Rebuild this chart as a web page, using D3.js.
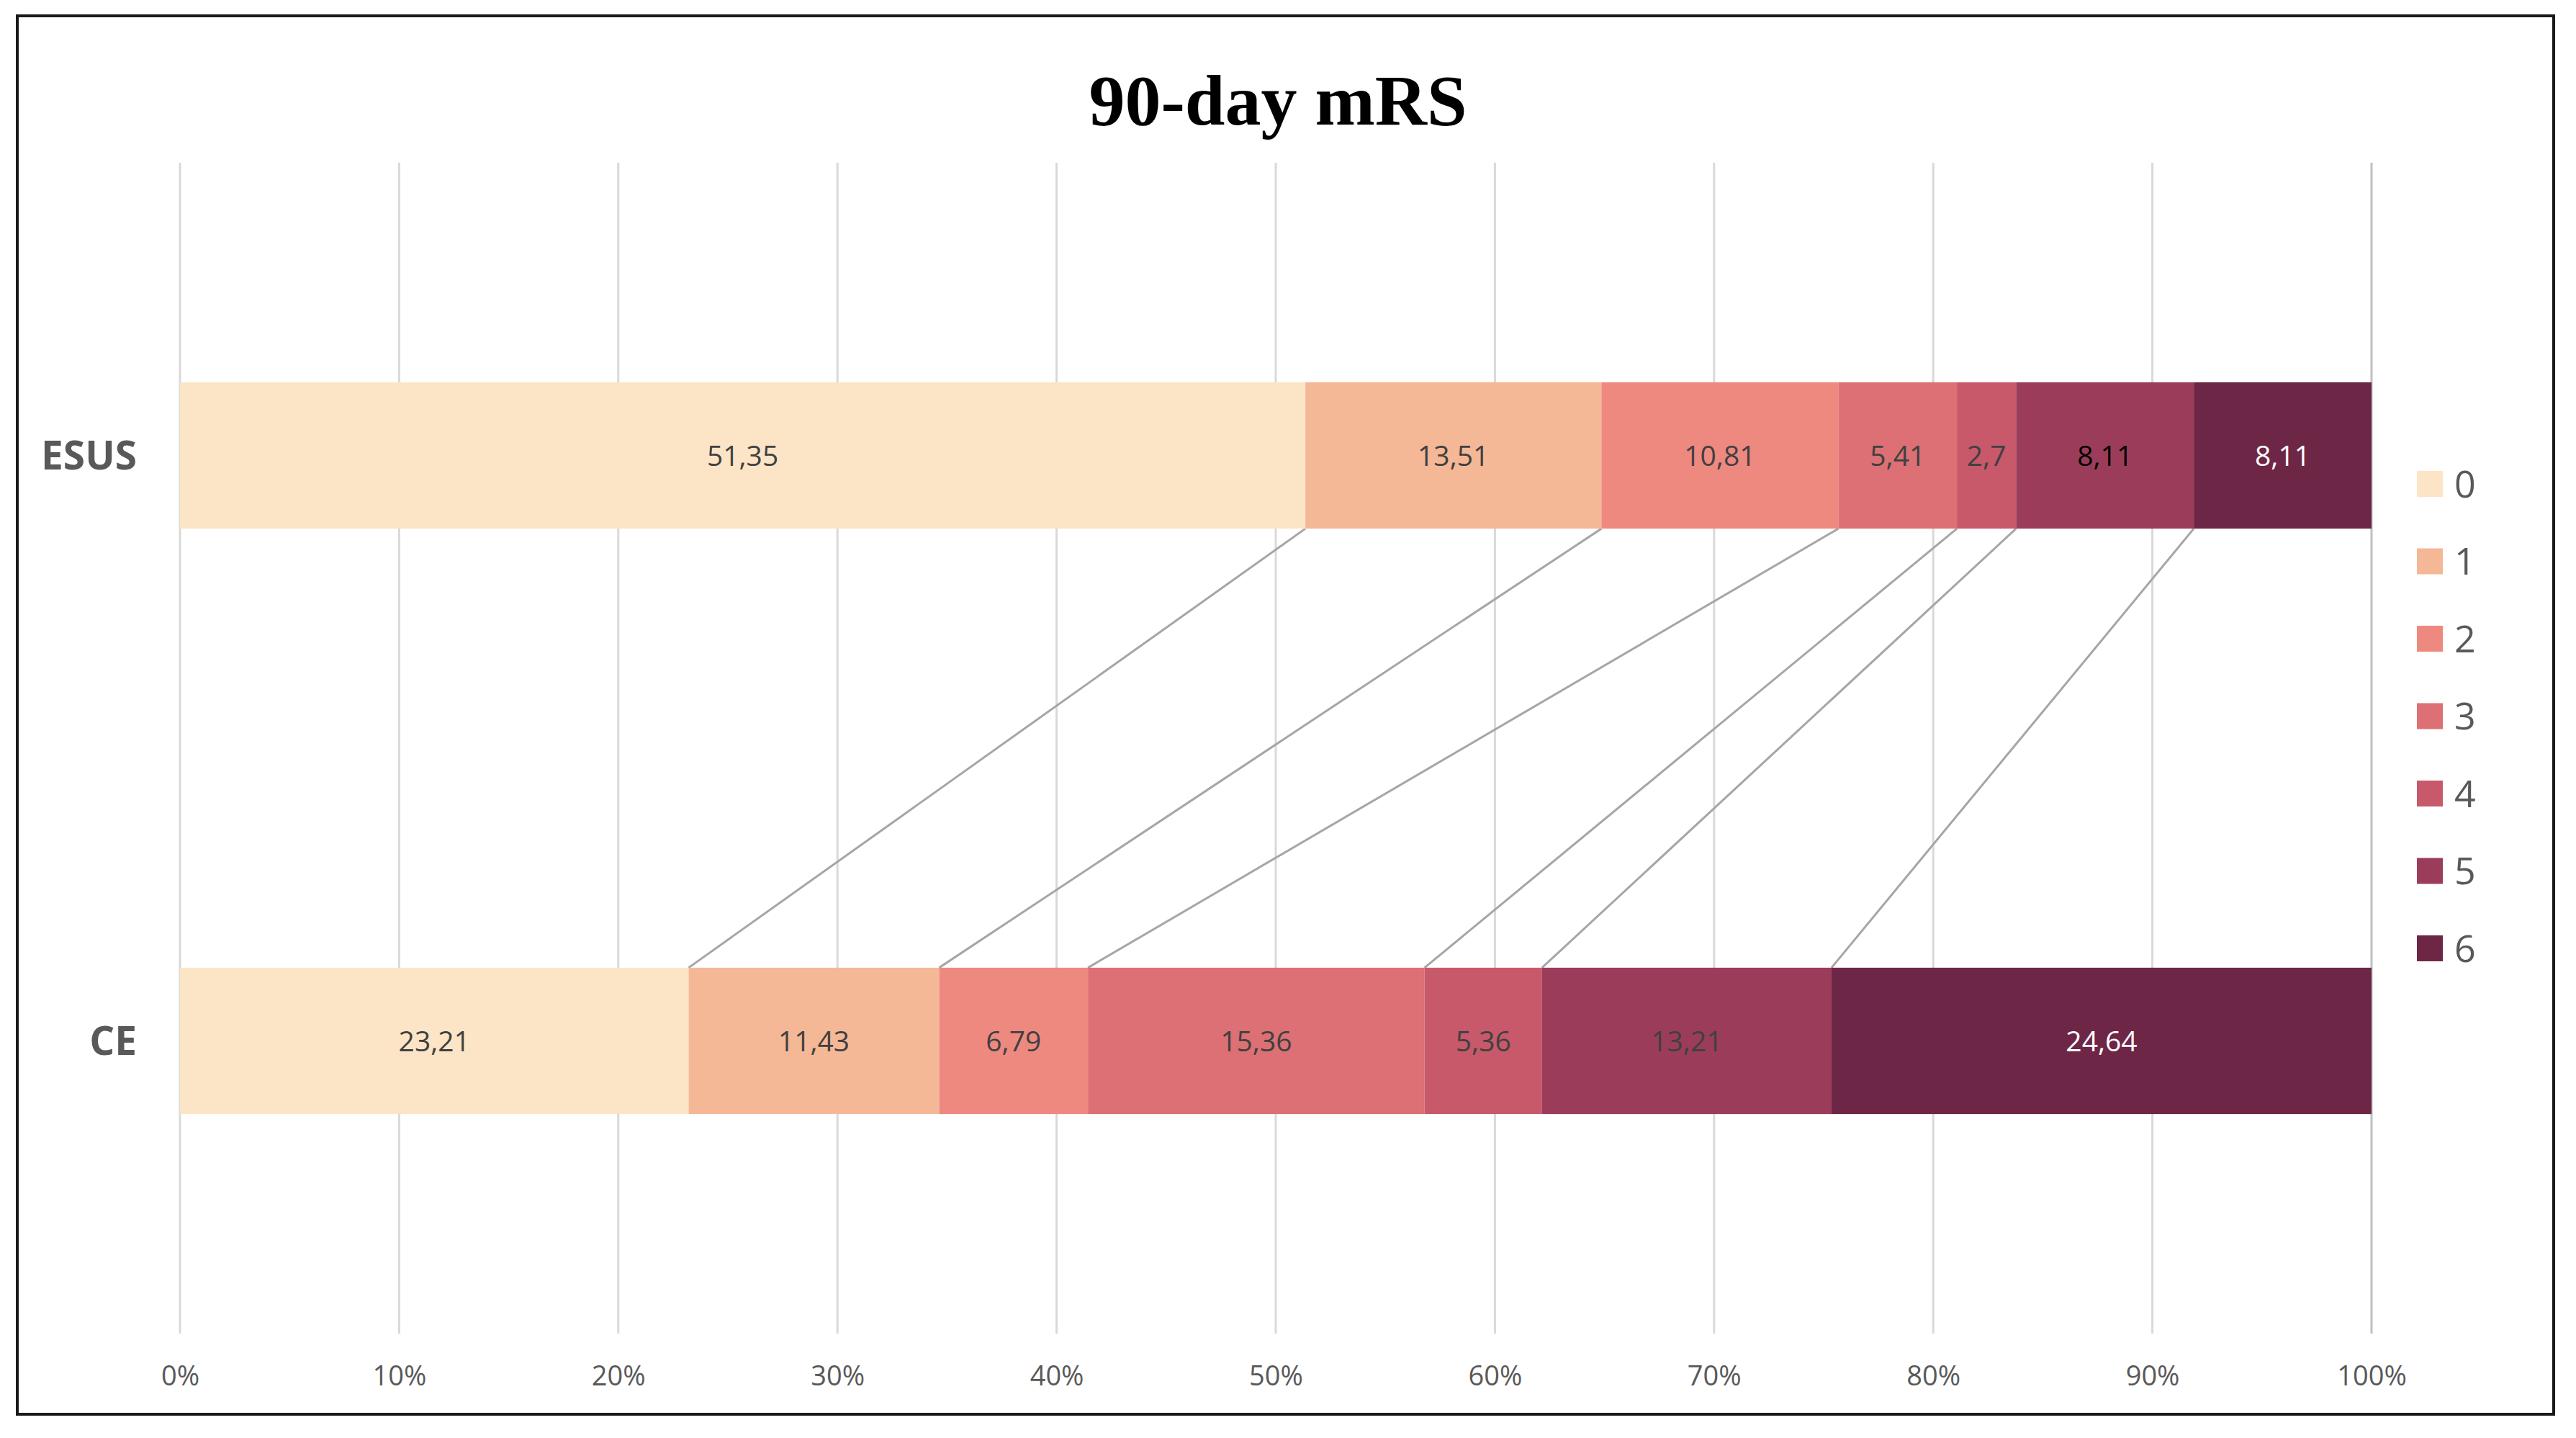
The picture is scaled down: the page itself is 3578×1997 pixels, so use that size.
<!DOCTYPE html>
<html>
<head>
<meta charset="utf-8">
<script src="https://cdn.jsdelivr.net/npm/d3@7"></script>
<style>
  body { margin: 0; background: #fff; }
  svg { display: block; }
</style>
</head>
<body>
<div id="chart"></div>
<script>
// data
const categories = ['ESUS', 'CE'];
const series = ['0', '1', '2', '3', '4', '5', '6'];
const esusValues = [51.35, 13.51, 10.81, 5.41, 2.7, 8.11, 8.11];
const ceValues = [23.21, 11.43, 6.79, 15.36, 5.36, 13.21, 24.64];
const tickValues = [0, 10, 20, 30, 40, 50, 60, 70, 80, 90, 100];

const colors = ['#FCE5C6', '#F4B897', '#EE8980', '#DC7075', '#C7596B', '#9B3D5A', '#6E2646'];

const width = 3578;
const height = 1997;
const margin = { top: 226, right: 284, bottom: 145, left: 250 };

const svg = d3.select('#chart')
  .append('svg')
  .attr('width', width)
  .attr('height', height);

// outer frame
svg.append('rect')
  .attr('x', 24)
  .attr('y', 22)
  .attr('width', 3523)
  .attr('height', 1942)
  .style('fill', '#fff')
  .style('stroke', '#1a1a1a')
  .style('stroke-width', 4);

// title
svg.append('text')
  .attr('x', 1775)
  .attr('y', 173)
  .attr('text-anchor', 'middle')
  .style('font-family', '"Liberation Serif", "Times New Roman", serif')
  .style('font-weight', 'bold')
  .style('font-size', '100px')
  .style('fill', '#000')
  .text('90-day mRS');

const x = d3.scaleLinear()
  .domain([0, 100])
  .range([margin.left, width - margin.right]);

const y = d3.scaleBand()
  .domain(categories)
  .range([margin.top, height - margin.bottom])
  .paddingInner(0.75)
  .paddingOuter(0.375);

// gridlines
svg.append('g')
  .selectAll('line')
  .data(tickValues)
  .join('line')
  .attr('x1', d => x(d))
  .attr('x2', d => x(d))
  .attr('y1', margin.top)
  .attr('y2', height - margin.bottom)
  .style('stroke', d => d === 100 ? '#BFBFBF' : '#D9D9D9')
  .style('stroke-width', 3);

// x axis labels
const xAxis = d3.axisBottom(x)
  .tickValues(tickValues)
  .tickFormat(d => d + '%')
  .tickSize(0)
  .tickPadding(0);

const xg = svg.append('g')
  .attr('transform', `translate(0, ${height - margin.bottom + 44})`)
  .call(xAxis);
xg.select('.domain').remove();
xg.selectAll('text')
  .attr('dy', '0.35em')
  .attr('y', 15)
  .style('font-family', '"Open Sans", sans-serif')
  .style('font-size', '38px')
  .style('fill', '#595959');

// stack the rows
const rows = [esusValues, ceValues].map((vals, i) => {
  let acc = 0;
  return vals.map((v, j) => {
    const seg = { cat: categories[i], key: series[j], value: v, x0: acc, x1: acc + v, idx: j };
    acc += v;
    return seg;
  });
});

// connector lines between the two bars
const connectors = d3.range(series.length - 1).map(j => ({
  top: rows[0][j].x1,
  bottom: rows[1][j].x1
}));

svg.append('g')
  .selectAll('line')
  .data(connectors)
  .join('line')
  .attr('x1', d => x(d.top))
  .attr('y1', y('ESUS') + y.bandwidth())
  .attr('x2', d => x(d.bottom))
  .attr('y2', y('CE'))
  .style('stroke', '#A6A6A6')
  .style('stroke-width', 3);

// bars
const barGroup = svg.append('g');
rows.forEach(row => {
  barGroup.selectAll(null)
    .data(row)
    .enter()
    .append('rect')
    .attr('x', d => x(d.x0))
    .attr('y', d => y(d.cat))
    .attr('width', d => x(d.x1) - x(d.x0))
    .attr('height', y.bandwidth())
    .style('fill', d => colors[d.idx]);

  barGroup.selectAll(null)
    .data(row)
    .enter()
    .append('text')
    .attr('x', d => (x(d.x0) + x(d.x1)) / 2)
    .attr('y', d => y(d.cat) + y.bandwidth() / 2)
    .attr('dy', '0.36em')
    .attr('text-anchor', 'middle')
    .style('font-family', '"Open Sans", sans-serif')
    .style('font-size', '39px')
    .style('fill', d => {
      if (d.idx === 6) return '#ffffff';
      if (d.idx === 5 && d.cat === 'ESUS') return '#000000';
      return '#404040';
    })
    .text(d => String(d.value).replace('.', ','));
});

// category labels
svg.append('g')
  .selectAll('text')
  .data(categories)
  .join('text')
  .attr('x', 190)
  .attr('y', d => y(d) + y.bandwidth() / 2)
  .attr('dy', '0.36em')
  .attr('text-anchor', 'end')
  .style('font-family', '"Open Sans", sans-serif')
  .style('font-weight', 'bold')
  .style('font-size', '55px')
  .style('fill', '#595959')
  .text(d => d);

// legend
const legend = svg.append('g')
  .selectAll('g')
  .data(series)
  .join('g')
  .attr('transform', (d, i) => `translate(3357, ${672 + i * 107.5})`);

legend.append('rect')
  .attr('x', 0)
  .attr('y', -18)
  .attr('width', 36)
  .attr('height', 36)
  .style('fill', (d, i) => colors[i]);

legend.append('text')
  .attr('x', 52)
  .attr('y', 0)
  .attr('dy', '0.36em')
  .style('font-family', '"Open Sans", sans-serif')
  .style('font-size', '52px')
  .style('fill', '#595959')
  .text(d => d);
</script>
</body>
</html>
